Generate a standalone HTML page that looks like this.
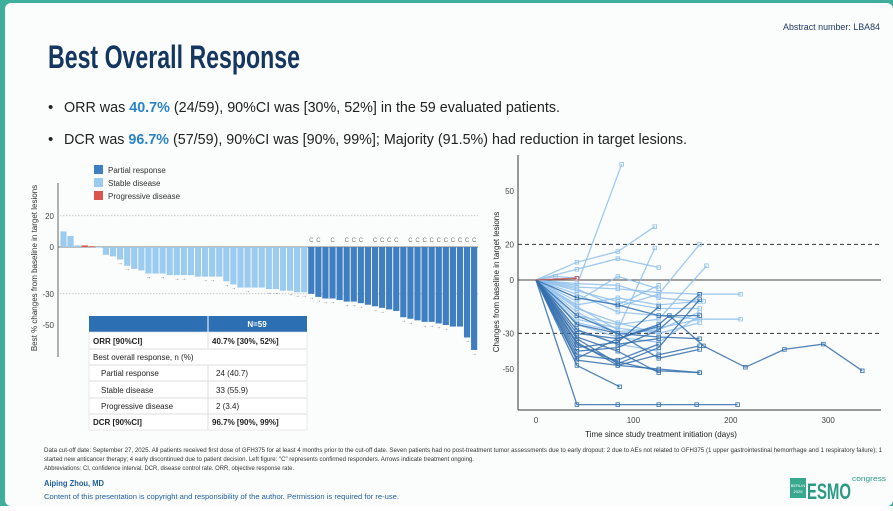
<!DOCTYPE html>
<html><head><meta charset="utf-8">
<style>
html,body{margin:0;padding:0;background:#fff;}
body{width:893px;height:506px;overflow:hidden;font-family:"Liberation Sans",Arial,sans-serif;}
svg text{font-family:"Liberation Sans",Arial,sans-serif;}
</style></head>
<body>
<svg id="slide" width="893" height="506" viewBox="0 0 893 506" xmlns="http://www.w3.org/2000/svg">
<rect x="0" y="0" width="893" height="506" fill="#3fae9c"/>
<rect x="5" y="3" width="888" height="503" rx="6" fill="#fbfcfc"/>
<text x="880" y="30" font-size="9" fill="#1f3b63" text-anchor="end" textLength="97" lengthAdjust="spacingAndGlyphs">Abstract number: LBA84</text>
<text x="48" y="68" font-size="32" font-weight="bold" fill="#14365f" textLength="252" lengthAdjust="spacingAndGlyphs">Best Overall Response</text>
<text x="48" y="112" font-size="15" fill="#222">•</text>
<text x="64" y="112" font-size="15" fill="#222" textLength="496" lengthAdjust="spacingAndGlyphs">ORR was <tspan fill="#2b83c6" font-weight="bold">40.7%</tspan> (24/59), 90%CI was [30%, 52%] in the 59 evaluated patients.</text>
<text x="48" y="144" font-size="15" fill="#222">•</text>
<text x="64" y="144" font-size="15" fill="#222" textLength="623" lengthAdjust="spacingAndGlyphs">DCR was <tspan fill="#2b83c6" font-weight="bold">96.7%</tspan> (57/59), 90%CI was [90%, 99%]; Majority (91.5%) had reduction in target lesions.</text>

<g id="waterfall"></g>
<g id="spider"></g>

<g font-size="8" fill="#222">
<rect x="89" y="316" width="218" height="16" fill="#2c6fb2"/>
<line x1="208" y1="316" x2="208" y2="332" stroke="#fff" stroke-width="1"/>
<text x="257" y="327" fill="#fff" font-weight="bold" text-anchor="middle">N=59</text>
<rect x="89" y="332" width="218" height="98" fill="#fff" stroke="#ddd" stroke-width="0.6"/>
<line x1="89" y1="349" x2="307" y2="349" stroke="#ddd"/><line x1="89" y1="365" x2="307" y2="365" stroke="#ddd"/>
<line x1="89" y1="381" x2="307" y2="381" stroke="#ddd"/><line x1="89" y1="398" x2="307" y2="398" stroke="#ddd"/>
<line x1="89" y1="414" x2="307" y2="414" stroke="#ddd"/>
<line x1="208" y1="332" x2="208" y2="349" stroke="#ddd"/><line x1="208" y1="365" x2="208" y2="430" stroke="#ddd"/>
<text x="93" y="344" font-weight="bold">ORR [90%CI]</text>
<text x="212" y="344" font-weight="bold">40.7% [30%, 52%]</text>
<text x="93" y="360">Best overall response, n (%)</text>
<text x="101" y="376">Partial response</text>
<text x="216" y="376">24 (40.7)</text>
<text x="101" y="393">Stable disease</text>
<text x="216" y="393">33 (55.9)</text>
<text x="101" y="409">Progressive disease</text>
<text x="216" y="409">2 (3.4)</text>
<text x="93" y="425" font-weight="bold">DCR [90%CI]</text>
<text x="212" y="425" font-weight="bold">96.7% [90%, 99%]</text>
</g>

<g font-size="6" fill="#333">
<text x="44" y="452" textLength="838" lengthAdjust="spacingAndGlyphs">Data cut-off date: September 27, 2025. All patients received first dose of GFH375 for at least 4 months prior to the cut-off date. Seven patients had no post-treatment tumor assessments due to early dropout: 2 due to AEs not related to GFH375 (1 upper gastrointestinal hemorrhage and 1 respiratory failure); 1</text>
<text x="44" y="461" textLength="430" lengthAdjust="spacingAndGlyphs">started new anticancer therapy; 4 early discontinued due to patient decision. Left figure: "C" represents confirmed responders. Arrows indicate treatment ongoing.</text>
<text x="44" y="470" textLength="250" lengthAdjust="spacingAndGlyphs">Abbreviations: CI, confidence interval. DCR, disease control rate. ORR, objective response rate.</text>
</g>
<text x="44" y="486" font-size="8" font-weight="bold" fill="#1f5f9e" textLength="60" lengthAdjust="spacingAndGlyphs">Aiping Zhou, MD</text>
<text x="44" y="499" font-size="7" fill="#1f5f9e" textLength="355" lengthAdjust="spacingAndGlyphs">Content of this presentation is copyright and responsibility of the author. Permission is required for re-use.</text>
<g>
<rect x="790" y="478" width="16" height="20" fill="#3aa88f"/>
<text x="798" y="487" font-size="4" fill="#fff" text-anchor="middle">BERLIN</text>
<text x="798" y="493" font-size="4" fill="#fff" text-anchor="middle">2025</text>
<text x="807" y="499" font-size="22" font-weight="bold" fill="#2a9a84" textLength="44" lengthAdjust="spacingAndGlyphs">ESMO</text>
<text x="852" y="481" font-size="7" fill="#2a9a84" textLength="34" lengthAdjust="spacingAndGlyphs">congress</text>
</g>
</svg>
<script>
// ---------- Waterfall data ----------
const wfValues = [10,7,1,1,0.5,0,-5,-6,-8,-12,-14,-15,-17,-17,-17,-18,-18,-18,-18,-19,-19,-19,-19,-22,-24,-26,-26,-26,-26,-27,-27,-28,-28,-29,-29,
 -30,-32,-33,-33,-34,-35,-35,-36,-37,-38,-39,-40,-41,-45,-46,-47,-48,-48,-49,-50,-51,-51,-58,-66];
const wfResponse = ["SD","SD","SD","PD","PD","SD","SD","SD","SD","SD","SD","SD","SD","SD","SD","SD","SD","SD","SD","SD","SD","SD","SD","SD","SD","SD","SD","SD","SD","SD","SD","SD","SD","SD","SD",
 "PR","PR","PR","PR","PR","PR","PR","PR","PR","PR","PR","PR","PR","PR","PR","PR","PR","PR","PR","PR","PR","PR","PR","PR"];
const wfConfirmed = [35,36,38,40,41,42,44,45,46,47,49,50,51,52,53,54,55,56,57,58];
const wfOngoing = [8,9,12,14,16,17,20,21,23,24,26,29,30,32,33,34,35,36,37,38,40,41,42,44,45,48,49,51,52,53,54,57,58];
const wfTicks = [20,0,-30,-50];
const wfColors = {PR:"#3f7fc1",SD:"#9ccbf0",PD:"#d9534f"};

// ---------- Spider data ----------
const spDays = [0,100,200,300];
const spTicks = [50,20,0,-30,-50];
const spSeriesSD = [
 [[0,0],[42,-3],[88,65]],
 [[0,0],[42,10],[84,16],[122,30]],
 [[0,0],[42,6],[84,12],[126,7]],
 [[0,0],[20,2],[42,1]],
 [[0,0],[42,-5],[84,-15],[126,-8],[168,20]],
 [[0,0],[42,-12],[84,2],[126,-5]],
 [[0,0],[42,-15],[84,-28],[122,18]],
 [[0,0],[42,-8],[84,-18],[126,-20],[168,-22],[210,-22]],
 [[0,0],[42,-4],[84,-5],[126,-7],[168,-8],[210,-8]],
 [[0,0],[42,-20],[84,-25],[126,-22],[175,8]],
 [[0,0],[42,-14],[84,-10],[126,-14],[168,-12],[172,-12]],
 [[0,0],[42,-18],[84,-30],[126,-28],[168,-18]],
 [[0,0],[42,-22],[84,-27],[126,-30]],
 [[0,0],[42,-25],[84,-32],[126,-35],[168,-20]],
 [[0,0],[42,-6],[84,-12],[126,-16],[168,-16]],
 [[0,0],[42,-16],[84,-24],[126,-30],[168,-24]],
 [[0,0],[42,-10],[84,-14],[126,-3]],
 [[0,0],[42,-28],[84,-36],[126,-40]],
 [[0,0],[42,-2],[84,-3],[126,-10],[165,-12]],
 [[0,0],[42,-24],[84,-29],[126,-27],[168,-22]]
];
const spSeriesPR = [
 [[0,0],[42,-45],[84,-48],[126,-50],[168,-52]],
 [[0,0],[42,-70],[84,-70],[126,-70],[165,-70],[207,-70]],
 [[0,0],[42,-48],[86,-60]],
 [[0,0],[42,-35],[84,-48],[126,-42],[168,-37]],
 [[0,0],[42,-30],[84,-33],[126,-25],[137,-20],[172,-37],[215,-49],[255,-39],[295,-36],[335,-51]],
 [[0,0],[42,-40],[84,-38],[126,-28],[168,-8]],
 [[0,0],[42,-38],[84,-35],[126,-15]],
 [[0,0],[42,-36],[84,-46],[126,-51],[168,-52]],
 [[0,0],[42,-33],[84,-47],[126,-38],[168,-11]],
 [[0,0],[42,-25],[84,-30],[126,-44],[168,-39]],
 [[0,0],[42,-20],[84,-30],[126,-32],[168,-33]],
 [[0,0],[42,-44],[84,-33],[126,-26]],
 [[0,0],[42,-32],[84,-40],[126,-52]],
 [[0,0],[42,-28],[84,-36],[126,-33]],
 [[0,0],[42,-42],[84,-45],[126,-36]],
 [[0,0],[42,-10],[84,-14],[126,-20],[168,-20]]
];
const spSeriesPD = [[[0,0],[42,1]]];

const NS = "http://www.w3.org/2000/svg";
function mk(tag, attrs, parent, txt){
  const e = document.createElementNS(NS, tag);
  for (const k in attrs) e.setAttribute(k, attrs[k]);
  if (txt !== undefined) e.textContent = txt;
  parent.appendChild(e);
  return e;
}

// ---------- Waterfall ----------
(function(){
  const g = document.getElementById('waterfall');
  const x0 = 60, bw = 7.08, zeroY = 247, k = 1.56;
  const xS = i => x0 + i*bw;
  const yS = v => zeroY - v*k;
  const ax = mk('line',{x1:58,y1:183,x2:58,y2:357,stroke:'#666','stroke-width':1},g);
  
  
  [20,-30].forEach(v=>{
    const l = mk('line',{x1:60,y1:yS(v),x2:478,y2:yS(v),stroke:'#aaa','stroke-width':0.7,'stroke-dasharray':'1.5,1.5'},g);
    
    
  });
  const zl = mk('line',{x1:58,y1:zeroY,x2:478,y2:zeroY,stroke:'#555','stroke-width':0.8},g);
  
  
  wfTicks.forEach(v=>{
    const t = mk('text',{x:54,y:yS(v)+3,'font-size':8,fill:'#444','text-anchor':'end'},g,String(v));
    
    
  });
  const yt = mk('text',{x:0,y:0,'font-size':8,fill:'#333','text-anchor':'middle',transform:'translate(37,268) rotate(-90)'},g,'Best % changes from baseline in target lesions');
  
  
  wfValues.forEach((v,i)=>{
    const y = Math.min(yS(v), zeroY), h = Math.max(Math.abs(v*k),0.6);
    const r = mk('rect',{x:xS(i)+0.4,y:y,width:bw-0.9,height:h,fill:wfColors[wfResponse[i]]},g);
    
    
  });
  wfConfirmed.forEach(i=>{
    const t = mk('text',{x:xS(i)+bw/2,y:242,'font-size':6,fill:'#777','text-anchor':'middle'},g,'C');
    
    
  });
  wfOngoing.forEach(i=>{
    const t = mk('text',{x:xS(i)+bw/2,y:yS(wfValues[i])+5,'font-size':5,fill:'#333','text-anchor':'middle'},g,'→');
    
    
  });
  [['PR','Partial response'],['SD','Stable disease'],['PD','Progressive disease']].forEach((p,j)=>{
    const s = mk('rect',{x:94,y:165+j*13,width:9,height:9,fill:wfColors[p[0]]},g);
    
    
    const t = mk('text',{x:108,y:173+j*13,'font-size':8,fill:'#333'},g,p[1]);
    
    
  });
})();

// ---------- Spider ----------
(function(){
  const g = document.getElementById('spider');
  const xS = d => 536 + d*0.974;
  const yS = v => 280 - v*1.78;
  const la = mk('line',{x1:518,y1:155,x2:518,y2:410,stroke:'#333','stroke-width':1},g);
  
  
  const ba = mk('line',{x1:518,y1:410,x2:881,y2:410,stroke:'#333','stroke-width':1},g);
  
  
  [20,-30].forEach(v=>{
    const l = mk('line',{x1:518,y1:yS(v),x2:881,y2:yS(v),stroke:'#333','stroke-width':1,'stroke-dasharray':'4,3'},g);
    
    
  });
  const zl = mk('line',{x1:518,y1:yS(0),x2:881,y2:yS(0),stroke:'#444','stroke-width':1},g);
  
  
  spTicks.forEach(v=>{
    const t = mk('text',{x:514,y:yS(v)+3,'font-size':8,fill:'#444','text-anchor':'end'},g,String(v));
    
    
  });
  spDays.forEach(d=>{
    const t = mk('text',{x:xS(d),y:423,'font-size':8,fill:'#444','text-anchor':'middle'},g,String(d));
    
    
  });
  const xt = mk('text',{x:661,y:437,'font-size':8,fill:'#222','text-anchor':'middle'},g,'Time since study treatment initiation (days)');
  
  
  const yt = mk('text',{x:0,y:0,'font-size':8,fill:'#222','text-anchor':'middle',transform:'translate(499,282) rotate(-90)'},g,'Changes from baseline in target lesions');
  
  
  function draw(series, color, name){
    series.forEach(s=>{
      const pts = s.map(p=>xS(p[0]).toFixed(1)+','+yS(p[1]).toFixed(1)).join(' ');
      const pl = mk('polyline',{points:pts,fill:'none',stroke:color,'stroke-width':1.3,'stroke-opacity':0.85},g);
      
      
      s.slice(1).forEach(p=>{
        const m = mk('rect',{x:xS(p[0])-1.8,y:yS(p[1])-1.8,width:3.6,height:3.6,fill:'none',stroke:color,'stroke-width':0.8},g);
        
        
      });
    });
  }
  draw(spSeriesSD,'#8fc0ec','spider-line-stable');
  draw(spSeriesPR,'#3570ad','spider-line-partial');
  draw(spSeriesPD,'#c0504d','spider-line-progressive');
})();
</script>
</body></html>
